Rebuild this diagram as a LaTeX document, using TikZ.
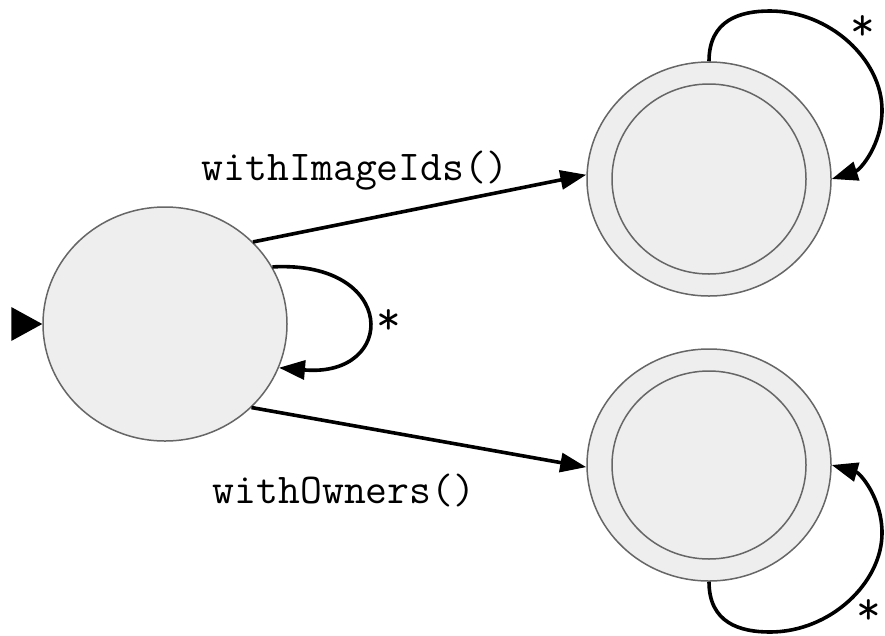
\documentclass[tikz,border=0pt]{standalone}
\usepackage{fontspec}
\usetikzlibrary{shapes.geometric,arrows.meta}
\definecolor{statefill}{HTML}{EEEEEE}
\definecolor{statedraw}{HTML}{666666}
\begin{document}
\begin{tikzpicture}[x=1pt,y=-1pt,
  statebox/.style={ellipse,draw=statedraw,fill=statefill,line width=1.5pt,inner sep=0pt},
  edgeline/.style={line width=3.6pt,-{Triangle[length=26pt,width=19pt]}},
  lbl/.style={font=\ttfamily\fontsize{42.5}{46}\selectfont,inner sep=0pt},
  star/.style={font=\ttfamily\fontsize{48}{50}\selectfont,inner sep=0pt}]
\useasboundingbox (0,0) rectangle (885,635);
\node[statebox,minimum width=244pt,minimum height=234pt] (L) at (165,324) {};
\node[statebox,minimum width=244pt,minimum height=234pt] (A) at (709,179) {};
\node[statebox,minimum width=194pt,minimum height=190pt] (Ai) at (709,179) {};
\node[statebox,minimum width=244pt,minimum height=232pt] (B) at (709,465) {};
\node[statebox,minimum width=194pt,minimum height=188pt] (Bi) at (709,465) {};
% start marker
\fill (L.west) -- ++(-31,-17) -- ++(0,34) -- cycle;
% transitions
\draw[edgeline] (L.43) -- (A.178);
\draw[edgeline] (L.-44) -- (B.181);
\node[lbl] (t1) at (355,171) {withImageIds()};
\node[lbl] (t2) at (344,491) {withOwners()};
% self loops
\draw[edgeline] (L.28) .. controls (398,260) and (398,378) .. (L.-21);
\node[star] (s1) at (389,322) {*};
\draw[edgeline] (A.90) .. controls (709,20) and (740,11) .. (770,11)
  .. controls (830,11) and (882,60) .. (882,110)
  .. controls (882,145) and (860,170) .. (A.0);
\node[star] (s2) at (863,28) {*};
\draw[edgeline] (B.-90) .. controls (709,623) and (740,632) .. (770,632)
  .. controls (830,632) and (882,583) .. (882,533)
  .. controls (882,498) and (860,473) .. (B.0);
\node[star] (s3) at (869,612) {*};
\end{tikzpicture}
\end{document}
